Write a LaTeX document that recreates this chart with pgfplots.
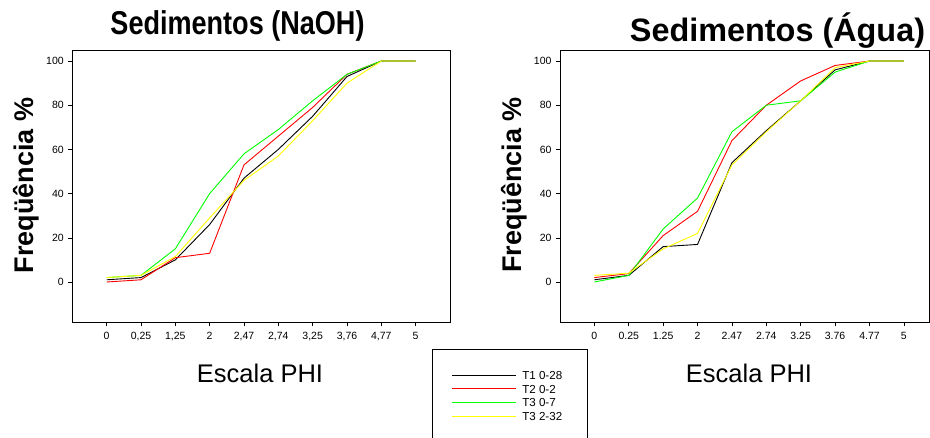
\documentclass[border=0pt]{standalone}
\usepackage{fontspec}
\setmainfont{Liberation Sans}
\usepackage{pgfplots}
\pgfplotsset{compat=1.18}

\definecolor{cBlack}{HTML}{000000}
\definecolor{cRed}{HTML}{FF0000}
\definecolor{cGreen}{HTML}{00FF00}
\definecolor{cYellow}{HTML}{FFFF00}

\pgfplotsset{
  phistyle/.style={
    scale only axis,
    anchor=south west,
    height=272pt,
    ymin=-18.1, ymax=105,
    xmin=-1,
    ytick={0,20,40,60,80,100},
    xtick={0,1,2,3,4,5,6,7,8,9},
    tick pos=left,
    tick align=outside,
    major tick length=4pt,
    axis line style={line width=0.8pt},
    every tick/.style={line width=0.6pt, black},
    tick label style={font=\fontsize{10.5}{12}\selectfont},
    /pgf/number format/assume math mode=true,
    xticklabel style={yshift=-3pt},
    yticklabel style={xshift=-1pt},
    every axis plot/.append style={line width=0.9pt, mark=none},
  }
}

\begin{document}
\begin{tikzpicture}
\useasboundingbox (0pt,0pt) rectangle (930pt,438pt);

% ---------- Left: NaOH ----------
\begin{axis}[phistyle,
  at={(72.3pt,116pt)}, width=377.7pt, xmax=10,
  xticklabels={0,{0,25},{1,25},2,{2,47},{2,74},{3,25},{3,76},{4,77},5},
  legend style={
    at={(0.9523,-0.0993)}, anchor=north west,
    draw=black, line width=0.8pt,
    inner xsep=19.5pt, inner ysep=19pt,
    font=\fontsize{11.6}{13}\selectfont,
    row sep=0pt,
    nodes={inner xsep=5.5pt, inner ysep=0pt, text height=10.9pt, text depth=2.8pt, anchor=base west},
  },
  legend cell align=left,
  legend image code/.code={\draw[#1, line width=0.9pt] (0pt,4.2pt) -- (60pt,4.2pt);
                           \path (0pt,4.2pt) -- (64pt,4.2pt);},
]
\addplot[cBlack] coordinates {(0,1) (1,2) (2,10) (3,26) (4,47) (5,60) (6,75) (7,93) (8,100) (9,100)};
\addplot[cRed] coordinates {(0,0) (1,1) (2,11) (3,13) (4,53) (5,66) (6,79) (7,94) (8,100) (9,100)};
\addplot[cGreen] coordinates {(0,2) (1,3) (2,15) (3,40) (4,58) (5,69) (6,82) (7,94) (8,100) (9,100)};
\addplot[cYellow] coordinates {(0,2) (1,3) (2,11.5) (3,29) (4,46) (5,57) (6,73) (7,90) (8,100) (9,100)};
\legend{T1 0-28, T2 0-2, T3 0-7, T3 2-32}
\end{axis}

% ---------- Right: Agua ----------
\begin{axis}[phistyle,
  at={(560pt,116pt)}, width=369.3pt, xmax=9.74,
  xticklabels={0,{0.25},{1.25},2,{2.47},{2.74},{3.25},{3.76},{4.77},5},
]
\addplot[cBlack] coordinates {(0,1) (1,3) (2,16) (3,17) (4,54) (5,68.5) (6,82) (7,96) (8,100) (9,100)};
\addplot[cRed] coordinates {(0,2) (1,3.8) (2,21) (3,32) (4,64) (5,80) (6,91) (7,98) (8,100) (9,100)};
\addplot[cGreen] coordinates {(0,0) (1,3) (2,24) (3,38) (4,68) (5,80) (6,82) (7,95) (8,100) (9,100)};
\addplot[cYellow] coordinates {(0,3) (1,4) (2,15) (3,22) (4,53) (5,68) (6,82) (7,97) (8,100) (9,100)};
\end{axis}

% ---------- Titles and labels ----------
\node[anchor=base, inner sep=0pt] at (237.5pt,403pt)
  {\scalebox{0.82}[1]{\bfseries\fontsize{33}{33}\selectfont Sedimentos (NaOH)}};
\node[anchor=base, inner sep=0pt] at (777.5pt,396pt)
  {\bfseries\fontsize{32.4}{33}\selectfont Sedimentos (Água)};

\node[anchor=base, rotate=90, inner sep=0pt] at (33.3pt,252.5pt)
  {\bfseries\fontsize{27}{28}\selectfont Freqüência \%};
\node[anchor=base, rotate=90, inner sep=0pt] at (521.7pt,253pt)
  {\bfseries\fontsize{27}{28}\selectfont Freqüência \%};

\node[anchor=base, inner sep=0pt] at (260pt,55pt)
  {\fontsize{25.5}{26}\selectfont Escala PHI};
\node[anchor=base, inner sep=0pt] at (749pt,55pt)
  {\fontsize{25.5}{26}\selectfont Escala PHI};
\end{tikzpicture}
\end{document}
